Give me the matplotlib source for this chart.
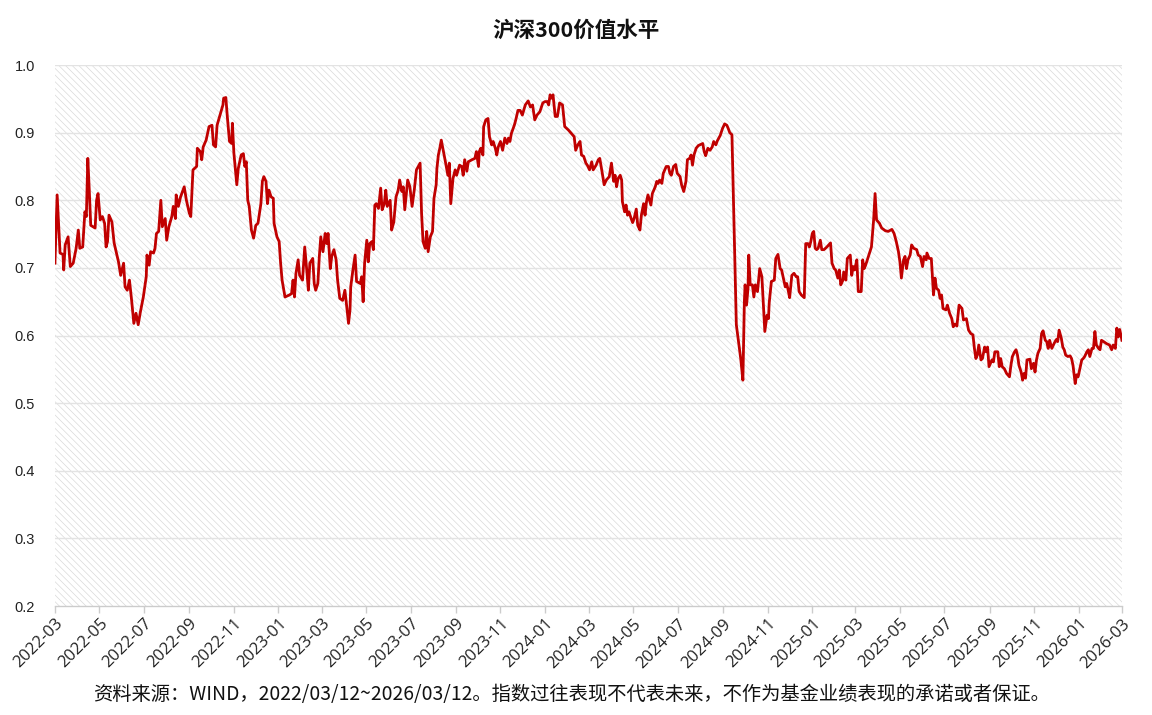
# 沪深300价值水平 折线图
import matplotlib
matplotlib.use('Agg')
import matplotlib.pyplot as plt
import matplotlib.dates as mdates
from matplotlib.patches import Rectangle
import pandas as pd

plt.rcParams['font.family'] = ['Noto Sans CJK SC', 'DejaVu Sans']
plt.rcParams['hatch.linewidth'] = 0.5

# =============================================================================
# 数据：距 2022-03-12 的天数，价值水平
# =============================================================================
start = pd.Timestamp('2022-03-12')
end = pd.Timestamp('2026-03-12')

days = [
    0, 3, 7, 11, 12, 14, 18, 21, 25, 29, 32, 34, 38, 41, 43, 45, 47, 49, 55, 57,
    59, 62, 65, 68, 70, 72, 74, 78, 81, 87, 90, 94, 96, 99, 102, 105, 108, 111, 114, 117,
    121, 125, 126, 129, 131, 135, 137, 139, 142, 145, 147, 151, 153, 156, 160, 162, 165, 166, 169, 172,
    177, 180, 184, 186, 189, 194, 195, 199, 201, 203, 207, 211, 215, 217, 220, 222, 226, 230, 231, 234,
    236, 239, 242, 243, 245, 249, 251, 255, 258, 260, 262, 264, 266, 269, 272, 275, 278, 282, 284, 286,
    289, 291, 293, 296, 299, 300, 304, 307, 309, 311, 315, 321, 324, 326, 328, 330, 333, 335, 339, 342,
    345, 347, 349, 353, 355, 357, 360, 362, 364, 367, 370, 372, 374, 377, 379, 382, 385, 387, 390, 394,
    397, 399, 402, 404, 405, 408, 411, 413, 418, 420, 422, 424, 427, 429, 431, 434, 436, 438, 440, 443,
    446, 448, 451, 453, 455, 459, 461, 464, 467, 470, 472, 475, 477, 479, 483, 486, 489, 492, 495, 500,
    502, 504, 507, 509, 511, 514, 517, 519, 522, 523, 525, 527, 529, 532, 535, 538, 540, 542, 545, 548,
    550, 554, 557, 559, 561, 564, 566, 571, 575, 577, 580, 581, 583, 586, 587, 590, 593, 595, 598, 600,
    603, 605, 607, 610, 613, 616, 619, 621, 623, 625, 629, 631, 634, 637, 640, 644, 648, 651, 654, 657,
    660, 664, 668, 671, 674, 676, 678, 680, 682, 685, 688, 691, 695, 698, 703, 707, 711, 713, 716, 719,
    721, 724, 727, 729, 732, 735, 737, 741, 744, 746, 749, 752, 755, 759, 762, 765, 767, 769, 771, 774,
    776, 777, 780, 782, 784, 786, 789, 791, 793, 796, 798, 801, 803, 806, 808, 810, 812, 816, 818, 822,
    824, 826, 828, 831, 833, 837, 840, 842, 844, 847, 850, 852, 856, 858, 861, 864, 866, 869, 871, 873,
    875, 878, 881, 885, 887, 889, 891, 894, 897, 900, 902, 905, 907, 911, 914, 917, 920, 922, 924, 927,
    933, 939, 942, 944, 945, 947, 949, 950, 952, 955, 957, 959, 962, 965, 968, 970, 972, 975, 977, 978,
    981, 985, 987, 990, 993, 995, 997, 1000, 1002, 1004, 1006, 1009, 1012, 1015, 1017, 1019, 1022, 1026, 1028, 1031,
    1033, 1035, 1037, 1039, 1041, 1043, 1045, 1048, 1050, 1053, 1057, 1062, 1064, 1067, 1069, 1072, 1074, 1076, 1079, 1080,
    1083, 1085, 1089, 1091, 1093, 1095, 1098, 1100, 1104, 1106, 1108, 1110, 1113, 1116, 1118, 1121, 1123, 1125, 1129, 1132,
    1137, 1141, 1146, 1149, 1152, 1155, 1157, 1159, 1162, 1164, 1166, 1168, 1171, 1173, 1176, 1180, 1182, 1185, 1188, 1190,
    1193, 1194, 1197, 1200, 1203, 1205, 1207, 1210, 1212, 1214, 1216, 1220, 1222, 1225, 1228, 1230, 1232, 1235, 1238, 1242,
    1244, 1248, 1251, 1254, 1257, 1259, 1261, 1263, 1265, 1268, 1270, 1273, 1275, 1277, 1279, 1283, 1285, 1287, 1291, 1293,
    1295, 1297, 1300, 1303, 1307, 1309, 1311, 1314, 1316, 1318, 1320, 1323, 1325, 1327, 1329, 1331, 1335, 1337, 1340, 1342,
    1344, 1346, 1349, 1351, 1353, 1356, 1358, 1360, 1362, 1365, 1368, 1371, 1373, 1375, 1378, 1380, 1382, 1384, 1387, 1390,
    1392, 1394, 1397, 1399, 1401, 1404, 1406, 1408, 1410, 1413, 1415, 1417, 1420, 1422, 1424, 1426, 1429, 1431, 1433, 1436,
    1440, 1444, 1447, 1449, 1452, 1454, 1456, 1458, 1461,
]

vals = [
    0.707, 0.808, 0.722, 0.720, 0.697, 0.734, 0.746, 0.702, 0.707, 0.729, 0.756, 0.729, 0.731, 0.783, 0.776, 0.862, 0.815, 0.763, 0.759, 0.800,
    0.810, 0.771, 0.776, 0.766, 0.731, 0.739, 0.778, 0.768, 0.737, 0.709, 0.689, 0.707, 0.672, 0.667, 0.682, 0.652, 0.618, 0.633, 0.616, 0.635,
    0.657, 0.687, 0.719, 0.704, 0.724, 0.722, 0.729, 0.751, 0.754, 0.800, 0.761, 0.773, 0.741, 0.761, 0.776, 0.791, 0.773, 0.808, 0.791, 0.805,
    0.820, 0.800, 0.781, 0.776, 0.845, 0.850, 0.877, 0.872, 0.860, 0.879, 0.889, 0.909, 0.911, 0.882, 0.879, 0.911, 0.926, 0.941, 0.951, 0.952,
    0.924, 0.887, 0.884, 0.914, 0.870, 0.823, 0.847, 0.867, 0.869, 0.850, 0.857, 0.800, 0.791, 0.756, 0.744, 0.763, 0.766, 0.795, 0.828, 0.835,
    0.828, 0.795, 0.815, 0.805, 0.803, 0.766, 0.746, 0.739, 0.707, 0.682, 0.657, 0.660, 0.662, 0.682, 0.657, 0.692, 0.712, 0.689, 0.682, 0.731,
    0.694, 0.667, 0.707, 0.714, 0.677, 0.667, 0.677, 0.717, 0.746, 0.724, 0.751, 0.736, 0.751, 0.699, 0.717, 0.727, 0.712, 0.682, 0.655, 0.652,
    0.667, 0.648, 0.618, 0.638, 0.672, 0.697, 0.719, 0.680, 0.677, 0.687, 0.650, 0.707, 0.741, 0.709, 0.736, 0.739, 0.727, 0.793, 0.795, 0.788,
    0.818, 0.786, 0.795, 0.815, 0.791, 0.800, 0.756, 0.768, 0.805, 0.815, 0.830, 0.813, 0.820, 0.786, 0.830, 0.820, 0.791, 0.815, 0.845, 0.855,
    0.781, 0.739, 0.729, 0.754, 0.724, 0.746, 0.754, 0.803, 0.823, 0.847, 0.867, 0.877, 0.889, 0.872, 0.855, 0.837, 0.855, 0.795, 0.832, 0.845,
    0.837, 0.852, 0.850, 0.837, 0.860, 0.843, 0.857, 0.860, 0.862, 0.872, 0.850, 0.872, 0.877, 0.867, 0.909, 0.919, 0.921, 0.894, 0.882, 0.887,
    0.877, 0.867, 0.879, 0.887, 0.874, 0.892, 0.884, 0.892, 0.887, 0.899, 0.911, 0.919, 0.933, 0.933, 0.926, 0.941, 0.947, 0.938, 0.941, 0.919,
    0.926, 0.931, 0.944, 0.946, 0.946, 0.941, 0.956, 0.951, 0.956, 0.924, 0.924, 0.944, 0.941, 0.909, 0.904, 0.899, 0.894, 0.874, 0.882, 0.887,
    0.867, 0.865, 0.855, 0.852, 0.845, 0.857, 0.845, 0.852, 0.860, 0.862, 0.843, 0.823, 0.830, 0.835, 0.855, 0.828, 0.837, 0.820, 0.832, 0.837,
    0.830, 0.798, 0.783, 0.793, 0.778, 0.783, 0.773, 0.767, 0.773, 0.787, 0.763, 0.756, 0.778, 0.795, 0.778, 0.798, 0.808, 0.793, 0.810, 0.820,
    0.828, 0.825, 0.830, 0.825, 0.840, 0.850, 0.850, 0.840, 0.837, 0.850, 0.853, 0.840, 0.835, 0.823, 0.813, 0.828, 0.860, 0.862, 0.867, 0.852,
    0.867, 0.877, 0.881, 0.883, 0.884, 0.872, 0.866, 0.877, 0.874, 0.879, 0.887, 0.882, 0.888, 0.896, 0.906, 0.913, 0.911, 0.906, 0.900, 0.897,
    0.616, 0.566, 0.534, 0.650, 0.675, 0.645, 0.670, 0.719, 0.675, 0.675, 0.657, 0.675, 0.665, 0.699, 0.687, 0.645, 0.606, 0.630, 0.625, 0.648,
    0.680, 0.682, 0.714, 0.720, 0.699, 0.697, 0.687, 0.672, 0.677, 0.667, 0.656, 0.689, 0.692, 0.687, 0.687, 0.665, 0.660, 0.656, 0.736, 0.736,
    0.731, 0.739, 0.751, 0.754, 0.729, 0.727, 0.729, 0.741, 0.727, 0.727, 0.731, 0.737, 0.707, 0.699, 0.697, 0.685, 0.697, 0.675, 0.682, 0.694,
    0.682, 0.714, 0.719, 0.689, 0.702, 0.697, 0.712, 0.665, 0.665, 0.712, 0.699, 0.704, 0.714, 0.724, 0.731, 0.771, 0.810, 0.771, 0.766, 0.759,
    0.755, 0.754, 0.757, 0.751, 0.739, 0.724, 0.709, 0.685, 0.712, 0.717, 0.699, 0.712, 0.719, 0.734, 0.729, 0.727, 0.719, 0.717, 0.702, 0.717,
    0.712, 0.722, 0.714, 0.714, 0.660, 0.685, 0.670, 0.667, 0.655, 0.660, 0.640, 0.638, 0.645, 0.633, 0.625, 0.613, 0.617, 0.614, 0.645, 0.640,
    0.623, 0.625, 0.608, 0.603, 0.601, 0.581, 0.566, 0.571, 0.586, 0.564, 0.566, 0.583, 0.576, 0.583, 0.554, 0.564, 0.561, 0.576, 0.576, 0.554,
    0.566, 0.554, 0.551, 0.544, 0.539, 0.556, 0.569, 0.576, 0.579, 0.571, 0.556, 0.546, 0.534, 0.544, 0.537, 0.564, 0.565, 0.551, 0.559, 0.546,
    0.564, 0.574, 0.581, 0.603, 0.607, 0.593, 0.591, 0.581, 0.593, 0.581, 0.588, 0.594, 0.591, 0.608, 0.596, 0.583, 0.579, 0.571, 0.569, 0.570,
    0.566, 0.556, 0.529, 0.542, 0.539, 0.554, 0.564, 0.566, 0.569, 0.576, 0.579, 0.569, 0.581, 0.581, 0.606, 0.586, 0.581, 0.579, 0.593, 0.591,
    0.588, 0.586, 0.579, 0.586, 0.581, 0.611, 0.598, 0.609, 0.593,
]

title = '沪深300价值水平'
note = '资料来源：WIND，2022/03/12~2026/03/12。指数过往表现不代表未来，不作为基金业绩表现的承诺或者保证。'
yticks = [0.2, 0.3, 0.4, 0.5, 0.6, 0.7, 0.8, 0.9, 1.0]

dates = start + pd.to_timedelta(days, unit='D')

# =============================================================================
# 画图
# =============================================================================
fig = plt.figure(figsize=(11.52, 7.15), dpi=100)
ax = fig.add_axes([0.0477, 0.1524, 0.9262, 0.7566])

# 斜线底纹
ax.add_patch(Rectangle((0, 0), 1, 1, transform=ax.transAxes, facecolor='white',
                       edgecolor='#d9d9d9', linewidth=0, hatch='\\\\\\\\\\', zorder=0))

for y in yticks[1:]:
    ax.axhline(y, color='#e3e3e3', linewidth=1.0, zorder=1)

ax.plot(dates, vals, color='#c00000', linewidth=2.0, zorder=3)

ax.set_xlim(start, end)
ax.set_ylim(0.2, 1.0)
ax.set_yticks(yticks)
ax.set_yticklabels(['%.1f' % v for v in yticks], fontsize=10.5, color='#222222',
                   family=['Liberation Sans', 'DejaVu Sans'])
ax.tick_params(axis='y', length=0, pad=29)
for lab in ax.get_yticklabels():
    lab.set_ha('left')

ax.xaxis.set_major_locator(mdates.MonthLocator(bymonth=[1, 3, 5, 7, 9, 11], bymonthday=12))
ax.xaxis.set_major_formatter(mdates.DateFormatter('%Y-%m'))
ax.tick_params(axis='x', length=5, color='#cccccc', width=1, pad=2)
for lab in ax.get_xticklabels():
    lab.set_rotation(45)
    lab.set_ha('right')
    lab.set_rotation_mode('anchor')
    lab.set_fontsize(12)
    lab.set_family(['Open Sans', 'DejaVu Sans'])
    lab.set_color('#222222')

for s in ['left', 'right', 'top']:
    ax.spines[s].set_visible(False)
ax.spines['bottom'].set_color('#cccccc')
ax.spines['bottom'].set_linewidth(1.0)

fig.text(0.5, 0.958, title, ha='center', va='center', fontsize=15.5, fontweight='bold', color='#111111')
fig.text(0.4965, 0.028, note, ha='center', va='center', fontsize=13.9, color='#111111')

fig.savefig('out.png', dpi=100)
